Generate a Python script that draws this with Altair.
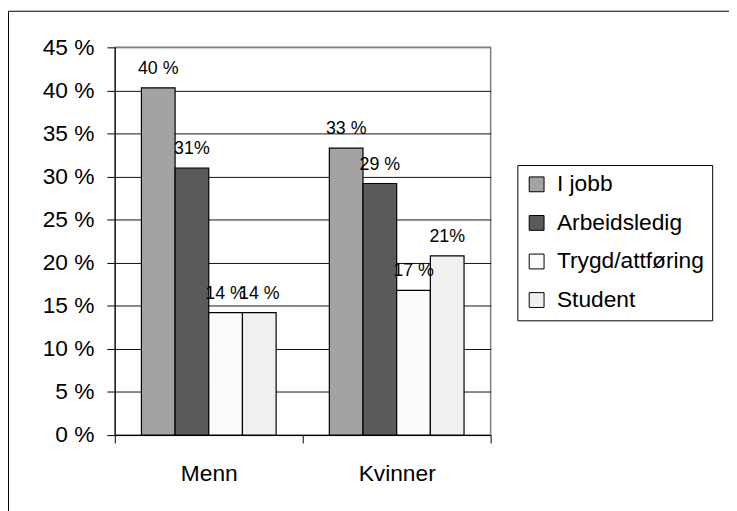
import altair as alt
import pandas as pd

categories = ["Menn", "Kvinner"]
series = ["I jobb", "Arbeidsledig", "Trygd/attføring", "Student"]
menn_values = [40.3, 31.0, 14.2, 14.2]
kvinner_values = [33.3, 29.2, 16.8, 20.8]
menn_labels = ["40 %", "31%", "14 %", "14 %"]
kvinner_labels = ["33 %", "29 %", "17 %", "21%"]
colors = ["#a3a3a3", "#5a5a5a", "#fbfbfb", "#f0f0f0"]
y_ticks = [0, 5, 10, 15, 20, 25, 30, 35, 40, 45]

rows = []
for cat, vals, labs in [("Menn", menn_values, menn_labels), ("Kvinner", kvinner_values, kvinner_labels)]:
    for s, v, l in zip(series, vals, labs):
        rows.append({"kategori": cat, "serie": s, "verdi": v, "etikett": l})
df = pd.DataFrame(rows)

FONT = "Liberation Sans"

x_enc = alt.X(
    "kategori:N",
    sort=categories,
    scale=alt.Scale(paddingInner=0, paddingOuter=0),
    axis=alt.Axis(
        title=None, labelAngle=0, tickBand="extent", tickSize=8,
        domainColor="black", tickColor="black", labelColor="black",
        labelFontSize=23, labelFont=FONT, labelPadding=20, grid=False,
    ),
)
xoff = alt.XOffset("serie:N", sort=series, scale=alt.Scale(paddingInner=0, paddingOuter=0.79))
y_enc = alt.Y(
    "verdi:Q",
    scale=alt.Scale(domain=[0, 45], nice=False),
    axis=alt.Axis(
        values=y_ticks, labelExpr="datum.value + ' %'", title=None,
        grid=True,
        gridColor=alt.condition("datum.value === 45", alt.value("#808080"), alt.value("#111111")),
        gridWidth=1, tickSize=8, domainColor="black", tickColor="black",
        labelColor="black", labelFontSize=23, labelFont=FONT, labelPadding=13,
    ),
)

base = alt.Chart(df)

bars = base.mark_bar(stroke="black", strokeWidth=1.2).encode(
    x=x_enc,
    xOffset=xoff,
    y=y_enc,
    color=alt.Color(
        "serie:N", sort=series,
        scale=alt.Scale(domain=series, range=colors),
        legend=alt.Legend(
            title=None, orient="none", legendX=407, legendY=119,
            strokeColor="black", fillColor="white", padding=8,
            symbolType="square", symbolSize=225, symbolStrokeColor="black",
            symbolStrokeWidth=1, symbolOpacity=1,
            labelFontSize=23, labelFont=FONT, labelColor="black",
            labelOffset=9, rowPadding=15,
        ),
    ),
)

labels = base.mark_text(fontSize=18, font=FONT, baseline="alphabetic", dy=-14, color="black").encode(
    x=alt.X("kategori:N", sort=categories),
    xOffset=alt.XOffset("serie:N", sort=series),
    y=alt.Y("verdi:Q"),
    text="etikett:N",
)

frame = alt.Chart(pd.DataFrame({"a": [0]})).mark_rect(
    filled=False, stroke="black", strokeWidth=1
).encode(
    x=alt.value(-107.5), x2=alt.value(640), y=alt.value(-36.5), y2=alt.value(480)
)

chart = alt.layer(frame, bars, labels).properties(
    width=380, height=392,
    autosize=alt.AutoSizeParams(type="none"),
    padding={"left": 108, "top": 37, "right": 241, "bottom": 74},
).configure_view(
    stroke="#808080", strokeWidth=1.5
).configure_legend(
    strokeWidth=1
)

chart.save("out.html", embed_options={"renderer": "svg", "actions": False})
